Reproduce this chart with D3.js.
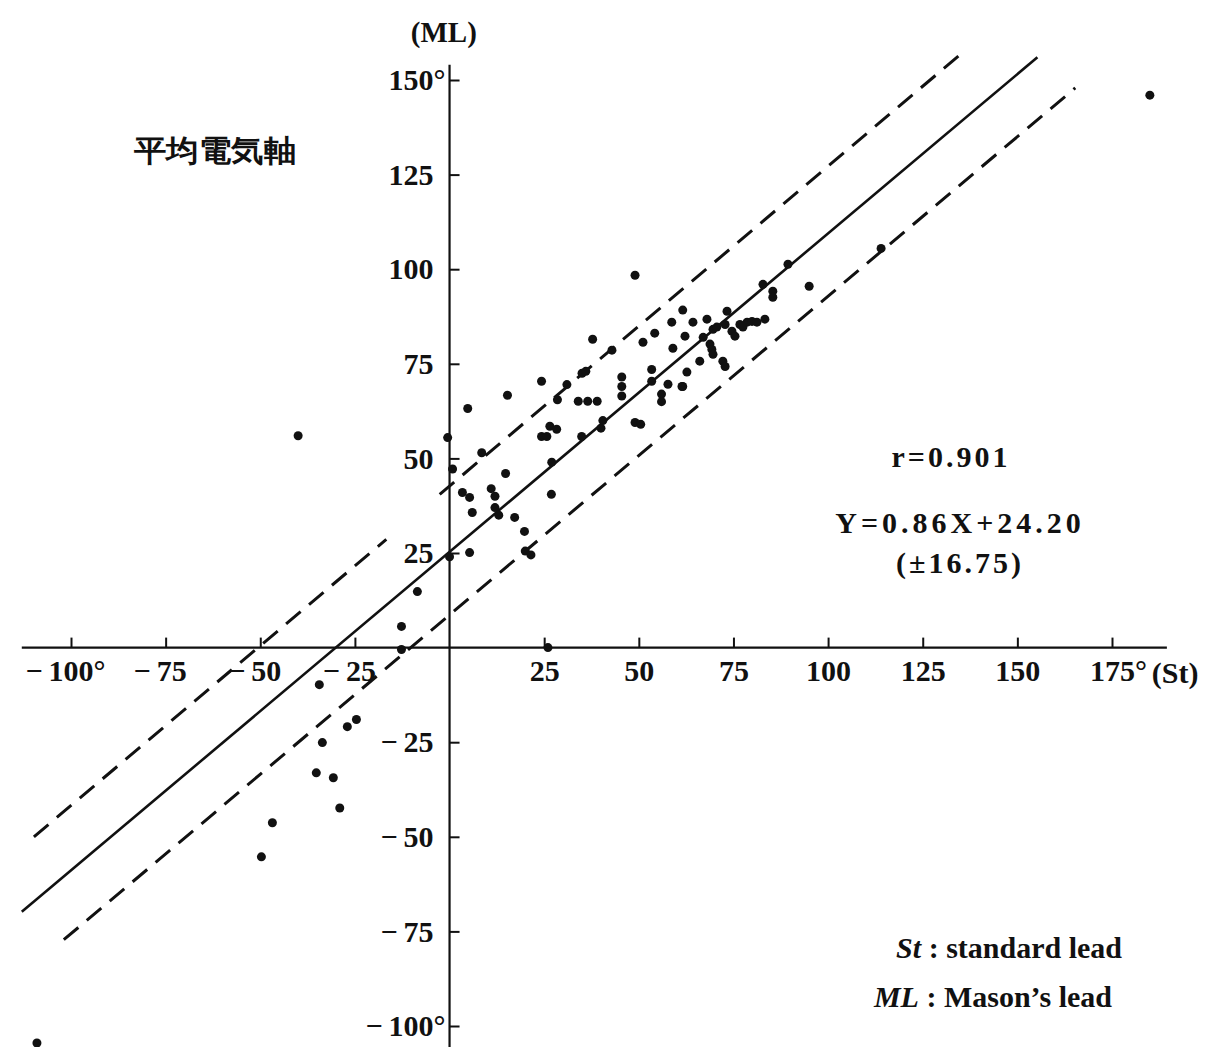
<!DOCTYPE html>
<html>
<head>
<meta charset="utf-8">
<script src="https://cdn.jsdelivr.net/npm/d3@7"></script>
<style>
  html, body { margin: 0; padding: 0; background: #fff; }
  svg { display: block; }
  text { font-family: "Liberation Serif", "DejaVu Serif", serif; font-weight: bold; fill: #111; }
</style>
</head>
<body>
<svg id="chart" width="1222" height="1047"></svg>
<script>
// ---------- data ----------
const xTickValues = [-100, -75, -50, -25, 25, 50, 75, 100, 125, 150, 175];
const xTickLabels = ["−\u2009100°", "−\u200975", "−\u200950", "−\u200925", "25", "50", "75", "100", "125", "150", "175°"];
const yTickValues = [-100, -75, -50, -25, 25, 50, 75, 100, 125, 150];
const yTickLabels = ["−\u2009100°", "−\u200975", "−\u200950", "−\u200925", "25", "50", "75", "100", "125", "150°"];

// St (x) values of each case
const stValues = [
  185, -40, 114, 95, 49, 26, -109,
  -12.7, -12.7, -34.4, -27, -24.6, -33.6, -35.2, -30.7, -29, -46.8, -49.7, -8.5,
  -0.5, 4.8, 15.3, 0.8, 3.4, 5.3, 6, 11, 12, 12, 13, 14.8, 5.3, 0, 17.2, 19.8, 20, 21.5, 26.9, 8.5,
  27, 24.3, 25.7, 26.5, 28.3, 34.9, 40, 40.5, 34, 36.5, 39, 45.5, 45.5, 45.5, 49, 50.5, 56, 56, 61.6,
  24.3, 28.5, 31, 35, 36, 37.8, 42.9,
  51.1, 54.2, 58.7, 61.6, 64.3, 62.2, 59, 53.4, 53.4, 57.7, 62.7, 61.4, 66.1, 68, 69.6, 70.6, 67,
  68.8, 69.3, 69.6, 72.2, 72.8, 73.3, 72.8, 74.6, 75.4, 76.7, 78.6, 79.9, 81.2, 83.3, 77.5,
  82.8, 85.4, 85.4, 89.4
];
// ML (y) values of each case, same order
const mlValues = [
  146, 56, 105.5, 95.5, 98.4, 0, -104.5,
  5.6, -0.5, -9.8, -20.9, -19, -25.1, -33.1, -34.4, -42.4, -46.3, -55.3, 14.8,
  55.5, 63.2, 66.7, 47.2, 41, 39.7, 35.7, 42, 40, 37, 35, 46, 25.1, 24, 34.4, 30.7, 25.5, 24.5, 40.5, 51.5,
  49, 55.8, 55.8, 58.5, 57.7, 55.8, 58, 60, 65.1, 65.1, 65.1, 71.5, 69, 66.5, 59.5, 59, 67, 65, 69,
  70.4, 65.5, 69.5, 72.5, 73, 81.5, 78.6,
  80.7, 83.1, 86, 89.2, 86, 82.3, 79.1, 73.5, 70.4, 69.6, 72.8, 69, 75.7, 86.8, 84.1, 84.7, 82,
  80.2, 78.8, 77.5, 75.7, 74.3, 88.9, 85.4, 83.6, 82.3, 85.4, 86, 86.2, 86, 86.8, 84.7,
  96, 94.2, 92.6, 101.3
];

// regression line and the ±16.75 band, as drawn (St, ML end points)
const regLine   = [[-113, -69.8], [155.3, 156]];
const upperBandA = [[-109.8, -50], [-16.7, 28.6]];
const upperBandB = [[-2.6, 40.5], [135.7, 157.4]];
const lowerBand = [[-101.9, -77.2], [165.3, 147.9]];

const statLines = ["r=0.901", "Y=0.86X+24.20", "(±16.75)"];

// ---------- drawing ----------
const svg = d3.select("#chart");
const x = d3.scaleLinear().domain([-100, 175]).range([71, 1112]);
const y = d3.scaleLinear().domain([-100, 150]).range([1026, 80]);

const ink = "#111";
const FS = 30;

// axis lines
svg.append("line").attr("x1", x(-113)).attr("x2", x(189.5)).attr("y1", y(0)).attr("y2", y(0))
  .attr("stroke", ink).attr("stroke-width", 2.2);
svg.append("line").attr("x1", x(0)).attr("x2", x(0)).attr("y1", y(154)).attr("y2", y(-107))
  .attr("stroke", ink).attr("stroke-width", 2.2);

// x axis ticks + labels
const xAxis = d3.axisBottom(x).tickValues(xTickValues)
  .tickFormat((d, i) => xTickLabels[i]).tickSizeInner(-10).tickSizeOuter(0).tickPadding(12);
const gx = svg.append("g").attr("transform", `translate(0,${y(0)})`).call(xAxis);
gx.select(".domain").remove();
gx.selectAll(".tick line").attr("stroke", ink).attr("stroke-width", 2);
gx.selectAll(".tick text").attr("font-size", FS).attr("fill", ink)
  .attr("font-family", "Liberation Serif, serif").attr("font-weight", "bold")
  .attr("dx", d => d < 0 ? -6 : (d === 175 ? 6 : 0));

// y axis ticks + labels
const yAxis = d3.axisLeft(y).tickValues(yTickValues)
  .tickFormat((d, i) => yTickLabels[i]).tickSizeInner(-10).tickSizeOuter(0).tickPadding(16);
const gy = svg.append("g").attr("transform", `translate(${x(0)},0)`).call(yAxis);
gy.select(".domain").remove();
gy.selectAll(".tick line").attr("stroke", ink).attr("stroke-width", 2);
gy.selectAll(".tick text").attr("font-size", FS).attr("fill", ink)
  .attr("font-family", "Liberation Serif, serif").attr("font-weight", "bold")
  .attr("dx", d => (d === 150 || d === -100) ? 12 : 0);

// axis titles
svg.append("text").attr("x", x(-1.5)).attr("y", y(160)).attr("text-anchor", "middle")
  .attr("font-size", 29).text("(ML)");
svg.append("text").attr("x", x(185.5)).attr("y", y(0) + 35).attr("text-anchor", "start")
  .attr("font-size", FS).text("(St)");
svg.append("text").attr("x", 134).attr("y", 161)
  .attr("font-family", "Noto Sans CJK JP, sans-serif").attr("font-weight", "bold")
  .attr("font-size", 30).attr("textLength", 162).attr("lengthAdjust", "spacingAndGlyphs")
  .text("平均電気軸");

// lines
const lineGen = d3.line().x(d => x(d[0])).y(d => y(d[1]));
svg.append("path").attr("d", lineGen(regLine)).attr("fill", "none")
  .attr("stroke", ink).attr("stroke-width", 2.6);
[upperBandA, upperBandB, lowerBand].forEach(seg => {
  svg.append("path").attr("d", lineGen(seg)).attr("fill", "none")
    .attr("stroke", ink).attr("stroke-width", 3).attr("stroke-dasharray", "19,11");
});

// points
const pts = stValues.map((v, i) => [v, mlValues[i]]);
svg.append("g").selectAll("circle").data(pts).join("circle")
  .attr("cx", d => x(d[0])).attr("cy", d => y(d[1])).attr("r", 4.5).attr("fill", ink);

// statistics
svg.append("text").attr("x", 951).attr("y", 467).attr("text-anchor", "middle")
  .attr("font-size", FS).attr("letter-spacing", 3).text(statLines[0]);
svg.append("text").attr("x", 960).attr("y", 533).attr("text-anchor", "middle")
  .attr("font-size", FS).attr("letter-spacing", 4).text(statLines[1]);
svg.append("text").attr("x", 960).attr("y", 573).attr("text-anchor", "middle")
  .attr("font-size", FS).attr("letter-spacing", 3).text(statLines[2]);

// legend
const leg1 = svg.append("text").attr("x", 1122).attr("y", 958).attr("text-anchor", "end").attr("font-size", FS);
leg1.append("tspan").attr("font-style", "italic").text("St");
leg1.append("tspan").text(" : standard lead");
const leg2 = svg.append("text").attr("x", 1112).attr("y", 1007).attr("text-anchor", "end").attr("font-size", FS);
leg2.append("tspan").attr("font-style", "italic").text("ML");
leg2.append("tspan").text(" : Mason’s lead");
</script>
</body>
</html>
